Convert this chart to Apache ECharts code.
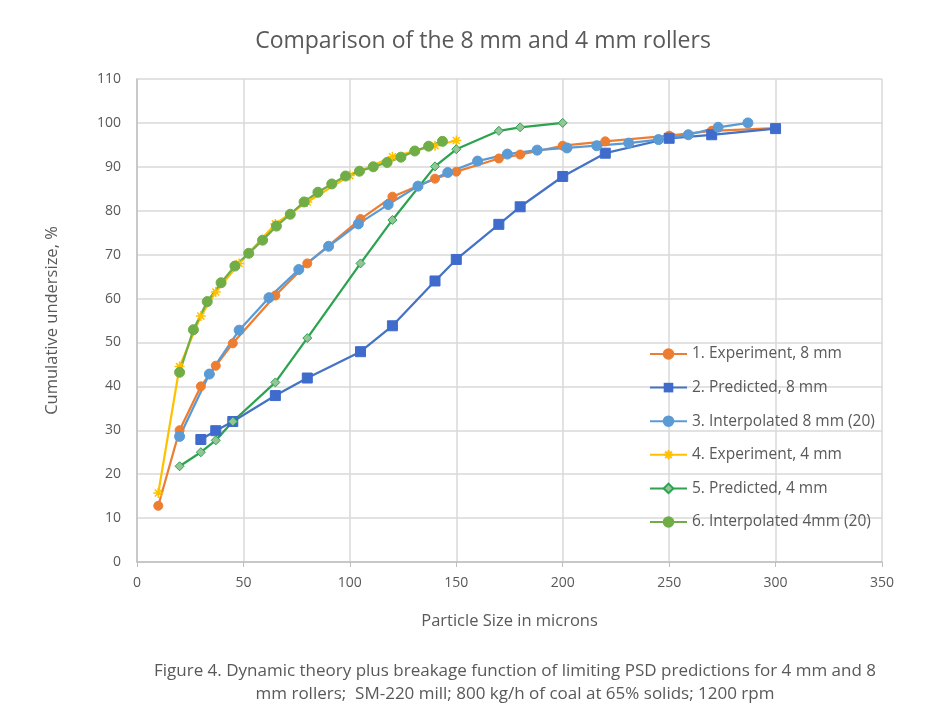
<!DOCTYPE html>
<html>
<head>
<meta charset="utf-8">
<script src="https://cdn.jsdelivr.net/npm/echarts@6/dist/echarts.min.js"></script>
<style>
  html, body { margin: 0; padding: 0; background: #fff; }
  #chart { width: 943px; height: 721px; }
</style>
</head>
<body>
<div id="chart"></div>
<script>
// 1. Experiment, 8 mm
const exp8X = [10, 20, 30, 37, 45, 65, 80, 105, 120, 140, 150, 170, 180, 200, 220, 250, 270, 300];
const exp8Y = [12.8, 30, 40, 44.7, 49.8, 60.7, 68, 78.1, 83.2, 87.3, 88.9, 91.9, 92.8, 94.8, 95.8, 97.1, 98.2, 98.8];

// 2. Predicted, 8 mm
const pred8X = [30, 37, 45, 65, 80, 105, 120, 140, 150, 170, 180, 200, 220, 250, 270, 300];
const pred8Y = [27.9, 29.9, 32, 37.9, 41.9, 47.9, 53.8, 64, 68.9, 76.9, 80.9, 87.8, 93.1, 96.5, 97.3, 98.7];

// 3. Interpolated 8 mm (20)
const int8X = [20, 34, 48, 62, 76, 90, 104, 118, 132, 146, 160, 174, 188, 202, 216, 231, 245, 259, 273, 287];
const int8Y = [28.6, 42.8, 52.8, 60.2, 66.6, 71.9, 77, 81.4, 85.6, 88.7, 91.3, 92.9, 93.8, 94.3, 94.8, 95.4, 96.2, 97.3, 99, 100];

// 4. Experiment, 4 mm
const exp4X = [10, 20, 30, 37, 48, 65, 80, 100, 120, 140, 150];
const exp4Y = [15.7, 44.5, 56, 61.5, 68, 77, 82, 88, 92.3, 94.8, 96];

// 5. Predicted, 4 mm
const pred4X = [20, 30, 37, 45, 65, 80, 105, 120, 140, 150, 170, 180, 200];
const pred4Y = [21.8, 25, 27.7, 32, 40.9, 51, 68, 77.9, 90.1, 94, 98.2, 99, 100];

// 6. Interpolated 4mm (20)
const int4X = [20, 26.5, 33, 39.5, 46, 52.5, 59, 65.5, 72, 78.5, 85, 91.5, 98, 104.5, 111, 117.5, 124, 130.5, 137, 143.5];
const int4Y = [43.2, 52.9, 59.3, 63.6, 67.4, 70.3, 73.3, 76.5, 79.2, 82, 84.2, 86.1, 87.9, 89, 90, 91, 92.2, 93.6, 94.7, 95.8];

const xTicks = [0, 50, 100, 150, 200, 250, 300, 350];
const yTicks = [0, 10, 20, 30, 40, 50, 60, 70, 80, 90, 100, 110];

const pairs = (xs, ys) => xs.map((x, i) => [x, ys[i]]);
const txt = '#595959';
const font = 'Open Sans';

const asterisk = 'path://M0,5L10,5M5,0L5,10M1.5,1.5L8.5,8.5M8.5,1.5L1.5,8.5';

const chart = echarts.init(document.getElementById('chart'));

const mk = (name, xs, ys, color, symbol, size, extra) => Object.assign({
  name: name,
  type: 'line',
  data: pairs(xs, ys),
  symbol: symbol,
  symbolSize: size,
  lineStyle: { color: color, width: 2.25 },
  itemStyle: { color: color, borderColor: color, borderWidth: 1 },
  emphasis: { disabled: true },
  z: 2
}, extra || {});

chart.setOption({
  animation: false,
  backgroundColor: '#fff',
  title: [
    {
      text: 'Comparison of the 8 mm and 4 mm rollers',
      left: 478, top: 25, textAlign: 'center',
      textStyle: { fontFamily: font, fontSize: 23, fontWeight: 'normal', color: txt }
    },
    {
      text: 'Figure 4. Dynamic theory plus breakage function of limiting PSD predictions for 4 mm and 8\nmm rollers;  SM-220 mill; 800 kg/h of coal at 65% solids; 1200 rpm',
      left: 510, top: 655, textAlign: 'center',
      textStyle: { fontFamily: font, fontSize: 17, fontWeight: 'normal', color: txt, lineHeight: 23, align: 'center' }
    }
  ],
  grid: { left: 137, right: 61, top: 79, bottom: 159 },
  legend: {
    orient: 'vertical',
    left: 644, top: 341,
    itemWidth: 37, itemHeight: 12, itemGap: 17.6,
    textStyle: { fontFamily: font, fontSize: 15.5, lineHeight: 16, color: txt },
    data: ['1. Experiment, 8 mm', '2. Predicted, 8 mm', '3. Interpolated 8 mm (20)',
           '4. Experiment, 4 mm', '5. Predicted, 4 mm', '6. Interpolated 4mm (20)']
  },
  xAxis: {
    type: 'value', min: 0, max: 350, interval: 50,
    name: 'Particle Size in microns', nameLocation: 'middle', nameGap: 51,
    nameTextStyle: { fontFamily: font, fontSize: 16.5, color: txt },
    axisLine: { lineStyle: { color: '#bfbfbf', width: 1.5 } },
    axisTick: { show: true, length: 5, lineStyle: { color: '#bfbfbf' } },
    axisLabel: { fontFamily: font, fontSize: 14, color: txt, margin: 14,
                 formatter: v => xTicks.includes(v) ? String(v) : '' },
    splitLine: { lineStyle: { color: '#d9d9d9', width: 1.5 } }
  },
  yAxis: {
    type: 'value', min: 0, max: 110, interval: 10,
    name: 'Cumulative undersize, %', nameLocation: 'middle', nameGap: 76,
    nameTextStyle: { fontFamily: font, fontSize: 16.5, color: txt },
    axisLine: { show: true, lineStyle: { color: '#bfbfbf', width: 1.5 } },
    axisTick: { show: false },
    axisLabel: { fontFamily: font, fontSize: 14, color: txt, margin: 16,
                 formatter: v => yTicks.includes(v) ? String(v) : '' },
    splitLine: { lineStyle: { color: '#d9d9d9', width: 1.5 } }
  },
  series: [
    mk('1. Experiment, 8 mm', exp8X, exp8Y, '#ED7D31', 'circle', 9),
    mk('2. Predicted, 8 mm', pred8X, pred8Y, '#4472C4', 'rect', 10,
       { itemStyle: { color: '#3F6BCC', borderColor: '#3F6BCC' } }),
    mk('3. Interpolated 8 mm (20)', int8X, int8Y, '#5B9BD5', 'circle', 10),
    mk('4. Experiment, 4 mm', exp4X, exp4Y, '#FFC000', asterisk, 10,
       { itemStyle: { color: 'none', borderColor: '#FFC000', borderWidth: 1.5 } }),
    mk('5. Predicted, 4 mm', pred4X, pred4Y, '#2BA34F', 'diamond', 9,
       { itemStyle: { color: '#93C596', borderColor: '#2BA34F', borderWidth: 1 } }),
    mk('6. Interpolated 4mm (20)', int4X, int4Y, '#70AD47', 'circle', 10)
  ]
});
</script>
</body>
</html>
